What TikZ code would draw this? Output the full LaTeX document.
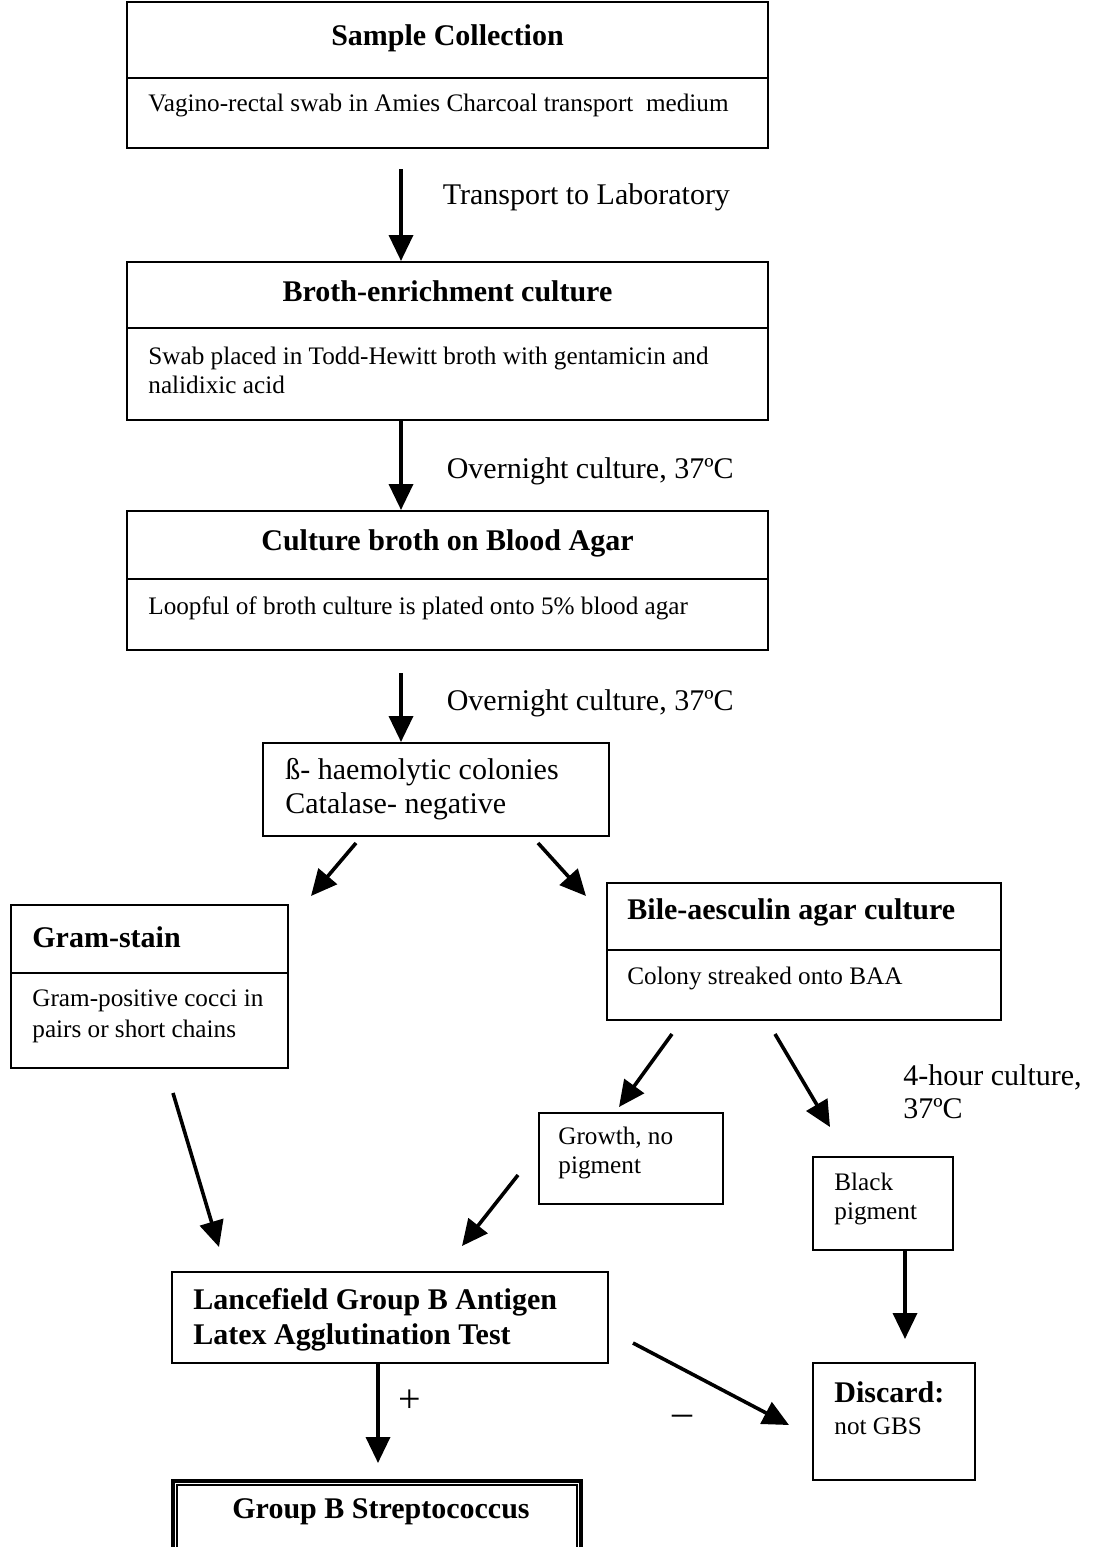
\documentclass[tikz,border=0pt]{standalone}
\usepackage{fontspec}
\setmainfont{Liberation Serif}
\usetikzlibrary{calc,arrows.meta}

\begin{document}
\begin{tikzpicture}[
  x=0.5pt,y=-0.5pt,
  font=\fontsize{12.6}{14.5}\selectfont,
  >={Triangle[length=13pt,width=12pt]},
  arr/.style={draw,line width=1.8pt,->},
  box/.style={draw,line width=1pt,inner sep=0pt},
  sep/.style={draw,line width=1pt},
  ttl/.style={font=\bfseries\fontsize{15}{17.5}\selectfont,inner sep=0pt,align=left},
  txt/.style={align=left,inner sep=0pt,anchor=west},
  big/.style={txt,font=\fontsize{15}{17}\selectfont},
  lbl/.style={font=\fontsize{15}{16.5}\selectfont,inner sep=0pt,anchor=west,align=left},
  sgn/.style={font=\fontsize{20}{20}\selectfont,inner sep=0pt},
  ]
\useasboundingbox (0,0) rectangle (1098,1547);
\clip (0,0) rectangle (1098,1547);

% ---- main column ----
\node[box,minimum width=320.5pt,minimum height=73pt] (sc) at (447.5,75) {};
\draw[sep] ($(sc.north west)+(0,77)$) -- ($(sc.north east)+(0,77)$);
\node[ttl] (sct) at (447.5,38) {Sample Collection};
\node[txt] (scb) at (148,105) {Vagino-rectal swab in Amies Charcoal transport\ \ medium};

\node[box,minimum width=320.5pt,minimum height=79pt] (be) at (447.5,341) {};
\draw[sep] ($(be.north west)+(0,67)$) -- ($(be.north east)+(0,67)$);
\node[ttl] (bet) at (447.5,291) {Broth-enrichment culture};
\node[txt] (beb) at (148,370) {Swab placed in Todd-Hewitt broth with gentamicin and\\nalidixic acid};

\node[box,minimum width=320.5pt,minimum height=69.5pt] (cb) at (447.5,580.5) {};
\draw[sep] ($(cb.north west)+(0,69)$) -- ($(cb.north east)+(0,69)$);
\node[ttl] (cbt) at (447.5,543) {Culture broth on Blood Agar};
\node[txt] (cbb) at (148,608) {Loopful of broth culture is plated onto 5\% blood agar};

\node[box,minimum width=173pt,minimum height=46.5pt] (bh) at (436,789.5) {};
\node[big] (bht) at (285,789) {ß- haemolytic colonies\\Catalase- negative};

% ---- branches ----
\node[box,minimum width=138.5pt,minimum height=81.5pt] (gs) at (149.5,986.5) {};
\draw[sep] ($(gs.north west)+(0,69)$) -- ($(gs.north east)+(0,69)$);
\node[ttl,anchor=west] (gst) at (32,937) {Gram-stain};
\node[txt,font=\fontsize{12.6}{15.5}\selectfont] (gsb) at (32,1016) {Gram-positive cocci in\\pairs or short chains};

\node[box,minimum width=197pt,minimum height=68.5pt] (ba) at (804,951.5) {};
\draw[sep] ($(ba.north west)+(0,68)$) -- ($(ba.north east)+(0,68)$);
\node[ttl,anchor=west] (bat) at (627,912) {Bile-aesculin agar culture};
\node[txt] (bab) at (627,978) {Colony streaked onto BAA};

\node[box,minimum width=92pt,minimum height=45.5pt] (gr) at (631,1158.5) {};
\node[txt] (grt) at (558,1153) {Growth, no\\pigment};

\node[box,minimum width=70pt,minimum height=46.5pt] (bp) at (883,1203.5) {};
\node[txt] (bpt) at (834,1199) {Black\\pigment};

\node[lbl] (hr) at (903,1092) {4-hour culture,\\37ºC};

% ---- tests and results ----
\node[box,minimum width=218pt,minimum height=45.5pt] (lf) at (390,1317.5) {};
\node[ttl,anchor=west] (lft) at (193,1320) {Lancefield Group B Antigen\\Latex Agglutination Test};

\node[box,minimum width=81pt,minimum height=58.5pt] (dc) at (894,1421.5) {};
\node[ttl,anchor=west] (dct) at (834,1392) {Discard:};
\node[txt] (dcb) at (834,1426) {not GBS};

\node[box,line width=2pt,minimum width=204pt,minimum height=59.5pt] (gbs) at (377,1540.5) {};
\draw[line width=0.8pt] ($(gbs.north west)+(6,6)$) rectangle ($(gbs.south east)+(-6,-6)$);
\node[ttl] (gbst) at (381,1512) {Group B Streptococcus};

% ---- arrows ----
\draw[arr] ($(sc.south)+(-46.5,20)$) -- node[lbl,pos=0.31,xshift=20pt]{Transport to Laboratory} ($(be.north)+(-46.5,0)$);
\draw[arr] ($(be.south)+(-46.5,0)$) -- node[lbl,pos=0.56,xshift=22pt]{Overnight culture, 37ºC} ($(cb.north)+(-46.5,0)$);
\draw[arr] ($(cb.south)+(-46.5,22)$) -- node[lbl,pos=0.44,xshift=22pt]{Overnight culture, 37ºC} ($(bh.north)+(-35,0)$);
\draw[arr] ($(bh.south)+(-80,6)$) -- ($(gs.north east)+(22,-8)$);
\draw[arr] ($(bh.south)+(102,6)$) -- ($(ba.north west)+(-20,14)$);
\draw[arr] ($(ba.south)+(-132,13)$) -- ($(gr.north)+(-12,-5)$);
\draw[arr] ($(ba.south)+(-29,13)$) -- ($(bp.north)+(-53,-29)$);
\draw[arr] ($(gs.south)+(23.5,24)$) -- ($(lf.north west)+(48,-24)$);
\draw[arr] ($(gr.west)+(-20,16.5)$) -- ($(lf.north)+(72,-25)$);
\draw[arr] ($(bp.south)+(22,0)$) -- ($(dc.north)+(11,-23)$);
\draw[arr] ($(lf.south)+(-12,0)$) -- node[sgn,pos=0.38,xshift=16pt]{+} ($(gbs.north)+(1,-16)$);
\draw[arr] ($(lf.east)+(24,25.5)$) -- node[sgn,pos=0.32,yshift=-25.5pt]{–} ($(dc.west)+(-23,3.5)$);

\end{tikzpicture}
\end{document}
